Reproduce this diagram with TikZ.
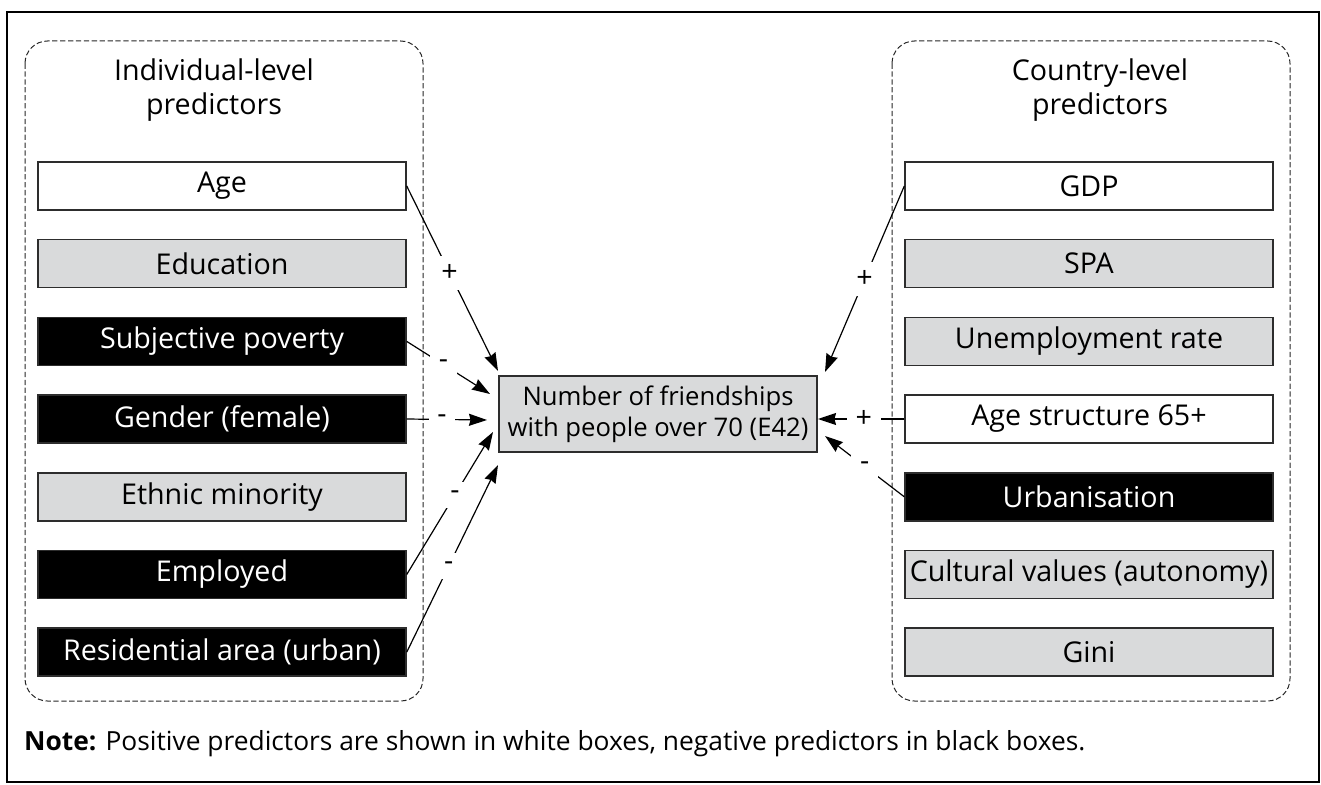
\documentclass[tikz,border=0pt]{standalone}
\usepackage{fontspec}
\setmainfont{Open Sans}
\usetikzlibrary{arrows.meta}

\definecolor{boxgray}{RGB}{217,218,219}
\definecolor{edgegray}{RGB}{45,45,45}

\tikzset{
  pred/.style={draw=edgegray, line width=0.03cm, minimum width=7.36cm,
    minimum height=0.96cm, inner sep=0pt},
  posbox/.style={pred, fill=white},
  negbox/.style={pred, fill=black, text=white},
  nullbox/.style={pred, fill=boxgray},
  groupbox/.style={draw=black!85, dash pattern=on 3pt off 1.5pt,
    rounded corners=0.45cm, line width=0.02cm},
  link/.style={line width=0.024cm,
    -{Stealth[length=0.36cm,width=0.24cm,inset=0.03cm]}},
  signlbl/.style={fill=white, inner sep=5pt},
}

\begin{document}
\begin{tikzpicture}[x=0.02cm, y=-0.02cm, font=\fontsize{16.3}{19.5}\selectfont]
    \useasboundingbox (0,0) rectangle (1321,784);

    % Drawing outer frame
    \draw [line width=0.045cm] (7,12) rectangle (1319,782);%

    % Drawing group boxes
    \draw [groupbox] (25,41) rectangle (423,701);%
    \draw [groupbox] (892,41) rectangle (1290,701);%

    % Marking group titles
    \node (indtitle) at (214,90) [align=center] {Individual-level\\predictors};%
    \node (cntitle) at (1100,90) [align=center] {Country-level\\predictors};%

    % Individual-level predictors
    \node (age) at (222,186) [posbox] {Age};%
    \node (edu) at (222,263.7) [nullbox] {Education};%
    \node (pov) at (222,341.4) [negbox] {Subjective poverty};%
    \node (gen) at (222,419) [negbox] {Gender (female)};%
    \node (eth) at (222,496.8) [nullbox] {Ethnic minority};%
    \node (emp) at (222,574.5) [negbox] {Employed};%
    \node (res) at (222,652.2) [negbox] {Residential area (urban)};%

    % Country-level predictors
    \node (gdp) at (1089,186) [posbox] {GDP};%
    \node (spa) at (1089,263.7) [nullbox] {SPA};%
    \node (unemp) at (1089,341.4) [nullbox] {Unemployment rate};%
    \node (agestr) at (1089,419) [posbox] {Age structure 65+};%
    \node (urb) at (1089,496.8) [negbox] {Urbanisation};%
    \node (cult) at (1089,574.5) [nullbox] {Cultural values (autonomy)};%
    \node (gini) at (1089,652.2) [nullbox] {Gini};%

    % Drawing outcome box
    \node (friends) at (658,414) [draw=edgegray, line width=0.03cm, fill=boxgray,
      minimum width=6.36cm, minimum height=1.52cm, inner sep=0pt, align=center,
      font=\fontsize{14.6}{17.6}\selectfont]
      {Number of friendships\\with people over 70 (E42)};%

    % Arrow ends next to the outcome box
    \coordinate (tage) at (498,371);
    \coordinate (tpov) at (490,394);
    \coordinate (tgen) at (487,420);
    \coordinate (temp) at (493,432);
    \coordinate (tres) at (498,465);
    \coordinate (tgdp) at (825,372);
    \coordinate (tagestr) at (818,419);
    \coordinate (turb) at (825,436);

    % Drawing links
    \draw [link] (age.east) -- node [signlbl, pos=0.47] {+} (tage);%
    \draw [link] (pov.east) -- node [signlbl, pos=0.44] {-} (tpov);%
    \draw [link] (gen.east) -- node [signlbl, pos=0.44] {-} (tgen);%
    \draw [link] (emp.east) -- node [signlbl, pos=0.56] {-} (temp);%
    \draw [link] (res.east) -- node [signlbl, pos=0.46] {-} (tres);%
    \draw [link] (gdp.west) -- node [signlbl, pos=0.5] {+} (tgdp);%
    \draw [link] (agestr.west) -- node [signlbl, pos=0.47] {+} (tagestr);%
    \draw [link] (urb.west) -- node [signlbl, pos=0.5] {-} (turb);%

    % Marking note
    \node (note) at (18,744) [anchor=west, font=\fontsize{15}{18}\selectfont]
      {\textbf{Note:} Positive predictors are shown in white boxes, negative predictors in black boxes.};%
\end{tikzpicture}
\end{document}
